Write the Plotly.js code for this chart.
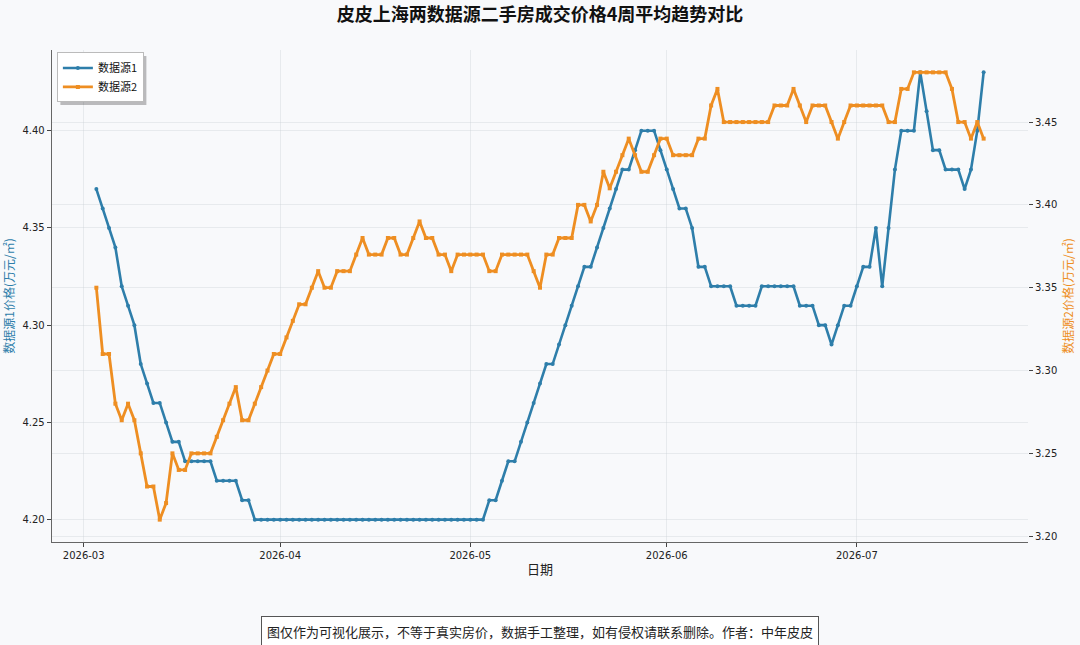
<!DOCTYPE html>
<html>
<head>
<meta charset="utf-8">
<script src="https://cdn.plot.ly/plotly-3.0.1.min.js"></script>
<style>
html,body{margin:0;padding:0;background:#f8f9fb;}
#chart{width:1080px;height:645px;}
</style>
</head>
<body>
<div id="chart"></div>
<script>
// ---- data ----
const startDate = '2026-03-03';
const source1Name = '数据源1';
const source2Name = '数据源2';
const source1 = [
  4.37,4.36,4.35,4.34,4.32,4.31,4.30,4.28,4.27,4.26,
  4.26,4.25,4.24,4.24,4.23,4.23,4.23,4.23,4.23,4.22,
  4.22,4.22,4.22,4.21,4.21,4.20,4.20,4.20,4.20,4.20,
  4.20,4.20,4.20,4.20,4.20,4.20,4.20,4.20,4.20,4.20,
  4.20,4.20,4.20,4.20,4.20,4.20,4.20,4.20,4.20,4.20,
  4.20,4.20,4.20,4.20,4.20,4.20,4.20,4.20,4.20,4.20,
  4.20,4.20,4.21,4.21,4.22,4.23,4.23,4.24,4.25,4.26,
  4.27,4.28,4.28,4.29,4.30,4.31,4.32,4.33,4.33,4.34,
  4.35,4.36,4.37,4.38,4.38,4.39,4.40,4.40,4.40,4.39,
  4.38,4.37,4.36,4.36,4.35,4.33,4.33,4.32,4.32,4.32,
  4.32,4.31,4.31,4.31,4.31,4.32,4.32,4.32,4.32,4.32,
  4.32,4.31,4.31,4.31,4.30,4.30,4.29,4.30,4.31,4.31,
  4.32,4.33,4.33,4.35,4.32,4.35,4.38,4.40,4.40,4.40,
  4.43,4.41,4.39,4.39,4.38,4.38,4.38,4.37,4.38,4.40,
  4.43
];
const source2 = [
  3.35,3.31,3.31,3.28,3.27,3.28,3.27,3.25,3.23,3.23,
  3.21,3.22,3.25,3.24,3.24,3.25,3.25,3.25,3.25,3.26,
  3.27,3.28,3.29,3.27,3.27,3.28,3.29,3.30,3.31,3.31,
  3.32,3.33,3.34,3.34,3.35,3.36,3.35,3.35,3.36,3.36,
  3.36,3.37,3.38,3.37,3.37,3.37,3.38,3.38,3.37,3.37,
  3.38,3.39,3.38,3.38,3.37,3.37,3.36,3.37,3.37,3.37,
  3.37,3.37,3.36,3.36,3.37,3.37,3.37,3.37,3.37,3.36,
  3.35,3.37,3.37,3.38,3.38,3.38,3.40,3.40,3.39,3.40,
  3.42,3.41,3.42,3.43,3.44,3.43,3.42,3.42,3.43,3.44,
  3.44,3.43,3.43,3.43,3.43,3.44,3.44,3.46,3.47,3.45,
  3.45,3.45,3.45,3.45,3.45,3.45,3.45,3.46,3.46,3.46,
  3.47,3.46,3.45,3.46,3.46,3.46,3.45,3.44,3.45,3.46,
  3.46,3.46,3.46,3.46,3.46,3.45,3.45,3.47,3.47,3.48,
  3.48,3.48,3.48,3.48,3.48,3.47,3.45,3.45,3.44,3.45,
  3.44
];
const xTickLabelFormat = '%Y-%m';
const titleText = '皮皮上海两数据源二手房成交价格4周平均趋势对比';
const xTitle = '日期';
const y1Title = '数据源1价格(万元/㎡)';
const y2Title = '数据源2价格(万元/㎡)';
const noteText = '图仅作为可视化展示，不等于真实房价，数据手工整理，如有侵权请联系删除。作者：中年皮皮';

// ---- build daily dates ----
function buildDates(start, n) {
  const out = [];
  const d0 = new Date(start + 'T00:00:00Z');
  for (let i = 0; i < n; i++) {
    const d = new Date(d0.getTime() + i * 86400000);
    out.push(d.toISOString().slice(0, 10));
  }
  return out;
}
const dates = buildDates(startDate, source1.length);

// matplotlib-like 5% margins
function padRange(arr, frac) {
  const lo = Math.min(...arr), hi = Math.max(...arr);
  const p = (hi - lo) * frac;
  return [lo - p, hi + p];
}
function padDateRange(ds, frac) {
  const a = new Date(ds[0] + 'T00:00:00Z').getTime();
  const b = new Date(ds[ds.length - 1] + 'T00:00:00Z').getTime();
  const p = (b - a) * frac;
  return [new Date(a - p).toISOString().slice(0, 19).replace('T', ' '),
          new Date(b + p).toISOString().slice(0, 19).replace('T', ' ')];
}

const BLUE = '#2E7EAA';
const ORANGE = '#EE8E22';
const CJK = '"Noto Sans CJK SC", "DejaVu Sans", sans-serif';
const TICKFONT = {family: '"DejaVu Sans", sans-serif', size: 10, color: '#222'};

const traces = [
  {
    x: dates, y: source1, name: source1Name, type: 'scatter', mode: 'lines+markers',
    line: {color: BLUE, width: 2.6}, marker: {color: BLUE, size: 4, symbol: 'circle'},
    yaxis: 'y'
  },
  {
    x: dates, y: source2, name: source2Name, type: 'scatter', mode: 'lines+markers',
    line: {color: ORANGE, width: 2.8}, marker: {color: ORANGE, size: 4, symbol: 'square'},
    yaxis: 'y2'
  }
];

const gridColor = 'rgba(200,205,212,0.35)';

const layout = {
  width: 1080, height: 645,
  paper_bgcolor: '#f8f9fb', plot_bgcolor: '#f8f9fb',
  margin: {l: 52, r: 52, t: 50, b: 103},
  showlegend: true,
  title: {
    text: '<b>' + titleText + '</b>',
    x: 0.5, xanchor: 'center', y: 0.977, yanchor: 'middle',
    font: {family: CJK, size: 18, color: '#111'}
  },
  xaxis: {
    type: 'date', range: padDateRange(dates, 0.05),
    tick0: '2026-03-01', dtick: 'M1', tickformat: xTickLabelFormat,
    ticks: 'outside', ticklen: 4, tickcolor: '#444', tickwidth: 1,
    tickfont: TICKFONT,
    showline: true, linecolor: '#666', linewidth: 1.3, mirror: false,
    showgrid: true, gridcolor: gridColor, gridwidth: 1, zeroline: false,
    title: {text: xTitle, font: {family: CJK, size: 13, color: '#222'}, standoff: 4}
  },
  yaxis: {
    range: padRange(source1, 0.05), dtick: 0.05, tick0: 4.2, tickformat: '.2f',
    ticks: 'outside', ticklen: 4, tickcolor: '#444', tickwidth: 1,
    tickfont: TICKFONT,
    showline: true, linecolor: '#666', linewidth: 1.3,
    showgrid: true, gridcolor: gridColor, gridwidth: 1, zeroline: false,
    title: {text: y1Title, font: {family: CJK, size: 12, color: BLUE}, standoff: 6}
  },
  yaxis2: {
    overlaying: 'y', side: 'right', anchor: 'x',
    range: padRange(source2, 0.05), dtick: 0.05, tick0: 3.2, tickformat: '.2f',
    ticks: 'outside', ticklen: 4, tickcolor: '#444', tickwidth: 1,
    tickfont: TICKFONT,
    showline: false,
    showgrid: true, gridcolor: gridColor, gridwidth: 1, zeroline: false,
    title: {text: y2Title, font: {family: CJK, size: 12, color: ORANGE}, standoff: 8}
  },
  legend: {
    x: 0.005, y: 0.995, xanchor: 'left', yanchor: 'top',
    bgcolor: '#ffffff', bordercolor: '#bbbbbb', borderwidth: 1,
    font: {family: CJK, size: 11, color: '#111'},
    itemwidth: 30, tracegroupgap: 2
  },
  annotations: [{
    text: noteText, xref: 'paper', yref: 'paper', x: 0.5, y: -0.181,
    xanchor: 'center', yanchor: 'middle', showarrow: false,
    font: {family: CJK, size: 13, color: '#222'},
    bgcolor: '#ffffff', bordercolor: '#555', borderwidth: 1, borderpad: 5
  }]
};

Plotly.newPlot('chart', traces, layout, {displayModeBar: false, staticPlot: true}).then(function (gd) {
  // soft drop shadow behind the legend box, sized from the rendered legend
  const bg = gd.querySelector('.legend .bg');
  if (!bg) return;
  const bb = bg.getBoundingClientRect();
  const host = gd.getBoundingClientRect();
  const fs = gd._fullLayout._size;
  const toPx = (px) => (px - fs.l) / fs.w;
  const toPy = (py) => 1 - (py - fs.t) / fs.h;
  const off = 3;
  Plotly.relayout(gd, {shapes: [{
    type: 'rect', xref: 'paper', yref: 'paper', layer: 'above',
    x0: toPx(bb.left - host.left + off), x1: toPx(bb.right - host.left + off),
    y0: toPy(bb.bottom - host.top + off), y1: toPy(bb.top - host.top + off),
    fillcolor: 'rgba(0,0,0,0.25)', line: {width: 0}
  }]});
});
</script>
</body>
</html>
